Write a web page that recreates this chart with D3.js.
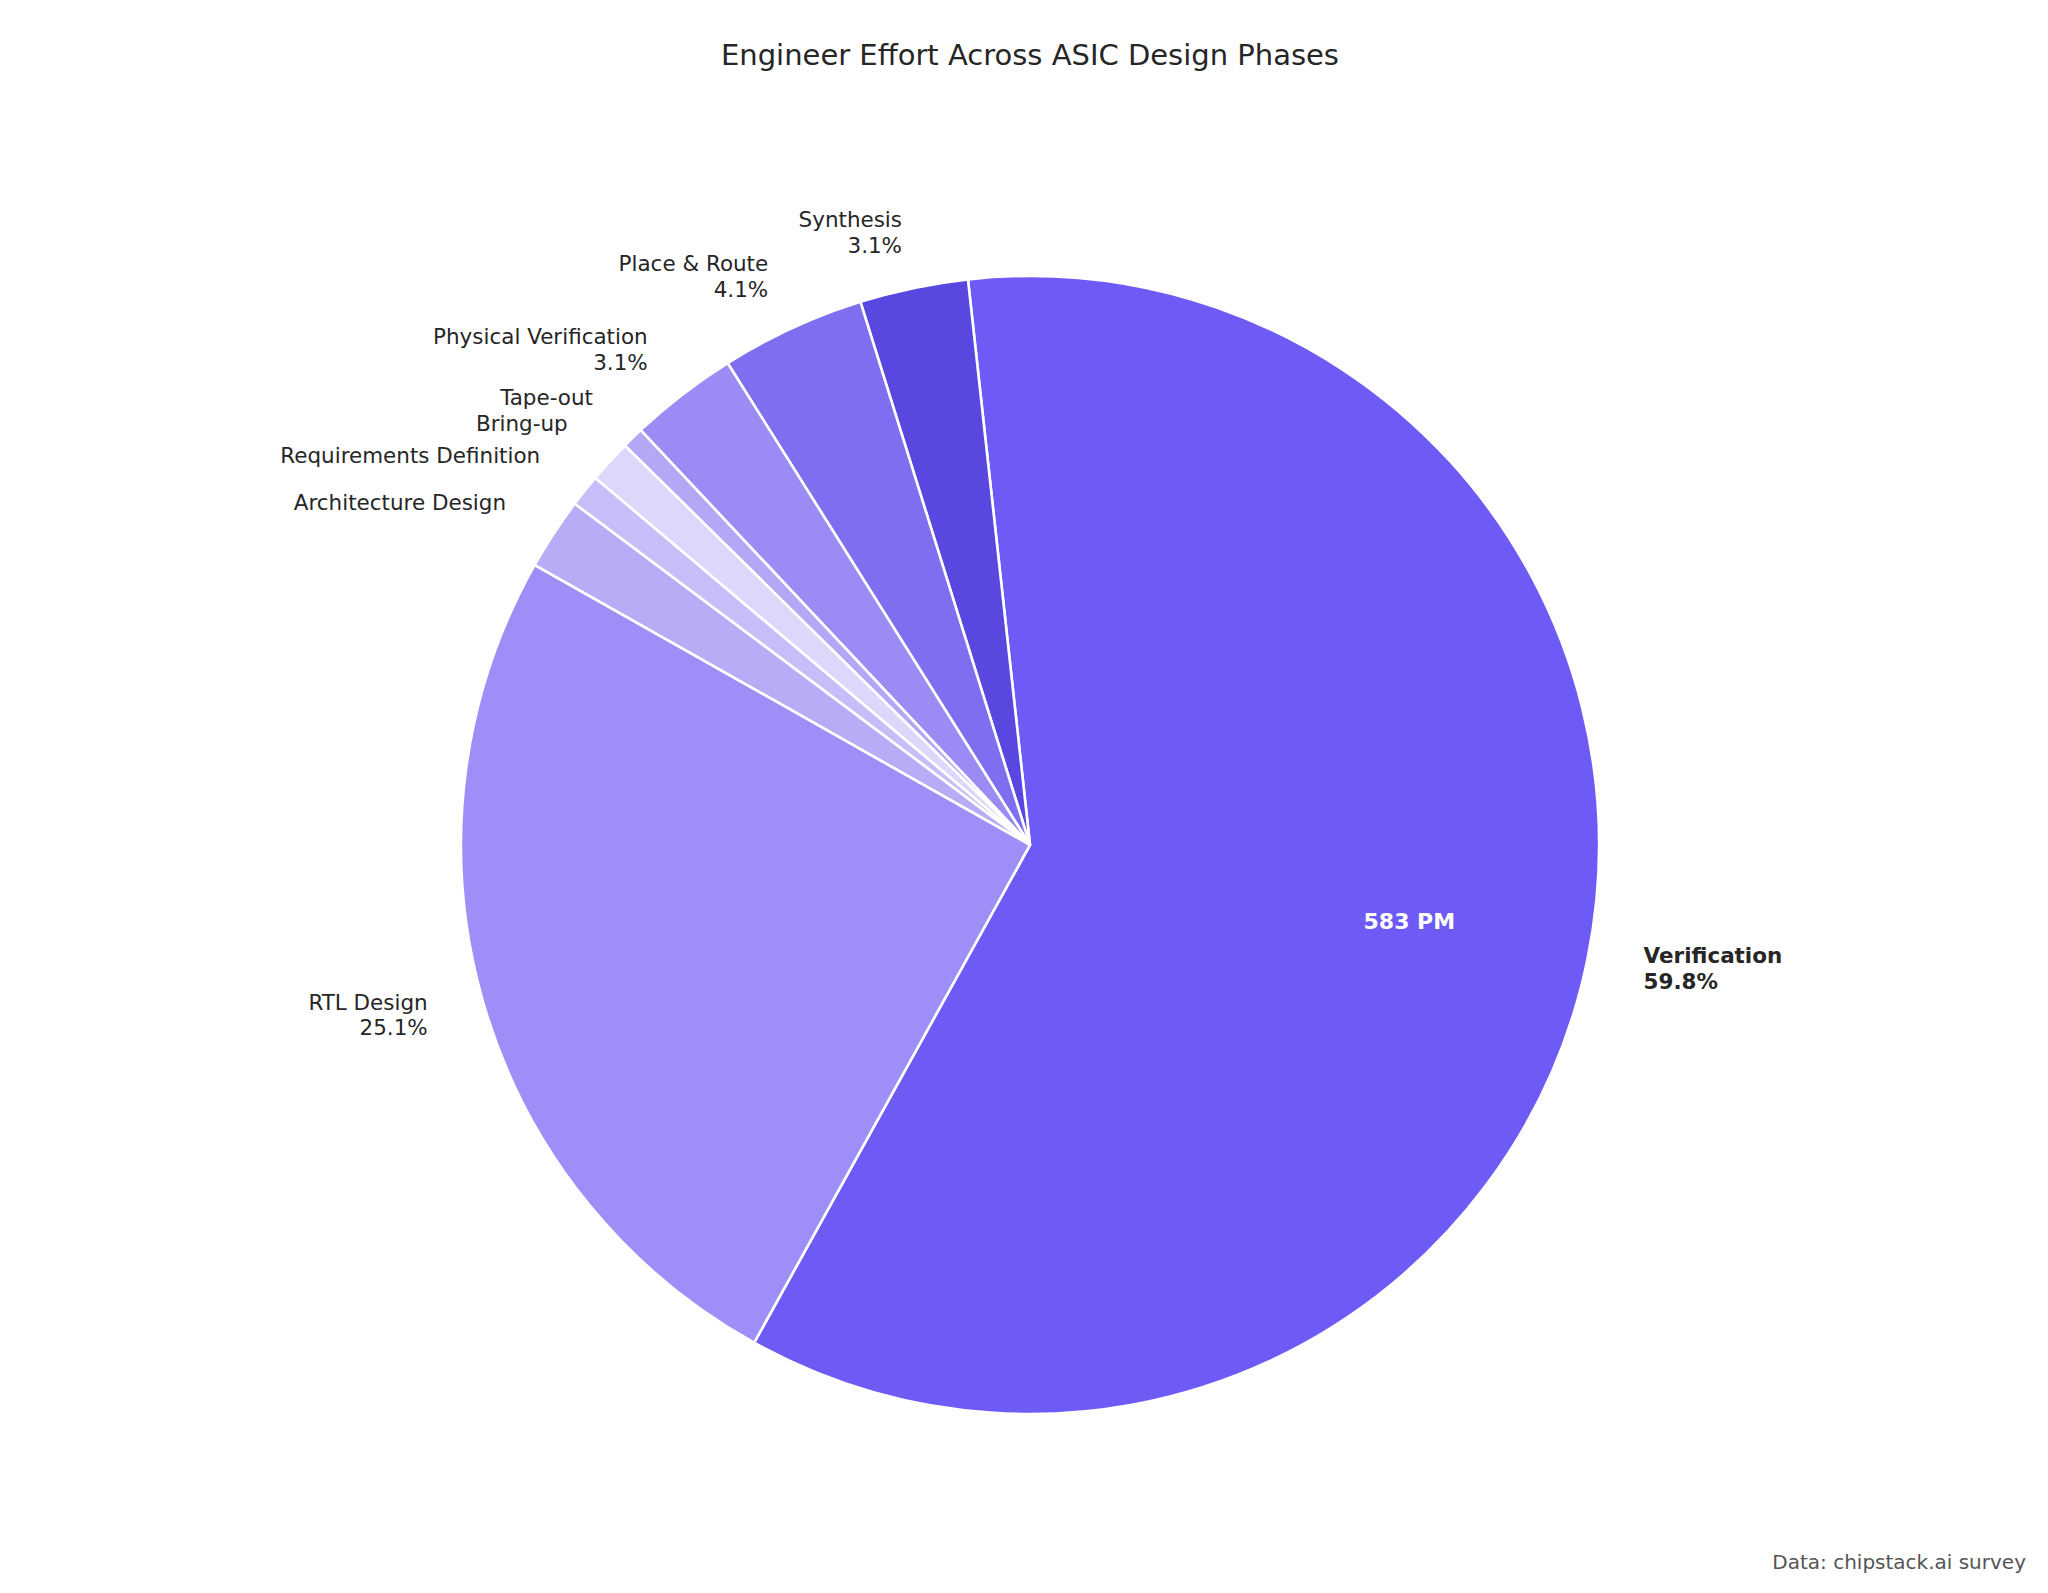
<!DOCTYPE html>
<html>
<meta charset="utf-8">
<head>
  <title>Engineer Effort Across ASIC Design Phases</title>
</head>
<style>
body { margin: 0; background: white; }
text { font-family: "DejaVu Sans", sans-serif; fill: #262626; }
</style>
<body>
  <svg width="2048" height="1593"></svg>
  <script src="https://cdnjs.cloudflare.com/ajax/libs/d3/7.8.5/d3.min.js"></script>
  <script>
// phases in drawing order (counterclockwise from Verification)
var phases = ["Verification", "Synthesis", "Place & Route", "Physical Verification",
              "Tape-out", "Bring-up", "Requirements Definition", "Architecture Design", "RTL Design"];
var personMonths = [583, 30, 40, 30, 6, 12, 9, 20, 245];
var colors = ["#6e5bf5", "#5848e0", "#7f6ff0", "#9b8cf5", "#b3a7f6", "#ddd7fb", "#c7bdf8", "#b8acf7", "#9e8ef7"];

var svg = d3.select("svg");
var cx = 1030, cy = 845, r = 569;
var total = d3.sum(personMonths);

var a0 = 209 * Math.PI / 180;
var pie = d3.pie().sort(null).startAngle(a0).endAngle(a0 - 2 * Math.PI);
var arcs = pie(personMonths);
var arc = d3.arc().innerRadius(0).outerRadius(r);

var g = svg.append("g").attr("transform", "translate(" + cx + "," + cy + ")");

g.selectAll("path")
  .data(arcs)
  .enter()
  .append("path")
  .attr("d", arc)
  .attr("fill", function(d, i) { return colors[i]; })
  .attr("stroke", "white")
  .attr("stroke-width", 2.6);

// outside labels
arcs.forEach(function(d, i) {
  var mid = (d.startAngle + d.endAngle) / 2;
  var x = Math.sin(mid) * r * 1.1, y = -Math.cos(mid) * r * 1.1;
  var pct = d.value / total * 100;
  var lines = pct >= 3 ? [phases[i], pct.toFixed(1) + "%"] : [phases[i]];
  var t = g.append("text")
    .attr("x", x)
    .attr("y", y)
    .attr("text-anchor", x < 0 ? "end" : "start")
    .attr("font-size", 29 * 0.74)
    .attr("font-weight", i === 0 ? "bold" : "normal");
  lines.forEach(function(s, j) {
    t.append("tspan")
      .attr("x", x)
      .attr("dy", j === 0 ? (lines.length === 2 ? "-0.25em" : "0.35em") : "1.2em")
      .text(s);
  });
});

// value inside Verification
var v = arcs[0], vm = (v.startAngle + v.endAngle) / 2;
g.append("text")
  .attr("x", Math.sin(vm) * r * 0.68)
  .attr("y", -Math.cos(vm) * r * 0.68)
  .attr("dy", "0.35em")
  .attr("text-anchor", "middle")
  .attr("font-size", 22)
  .attr("font-weight", "bold")
  .style("fill", "white")
  .text(personMonths[0] + " PM");

svg.append("text")
  .attr("x", 1030).attr("y", 65)
  .attr("text-anchor", "middle")
  .attr("font-size", 29)
  .text("Engineer Effort Across ASIC Design Phases");

svg.append("text")
  .attr("x", 2026).attr("y", 1569)
  .attr("text-anchor", "end")
  .attr("font-size", 20)
  .style("fill", "#555")
  .text("Data: chipstack.ai survey");
  </script>
</body>
</html>
